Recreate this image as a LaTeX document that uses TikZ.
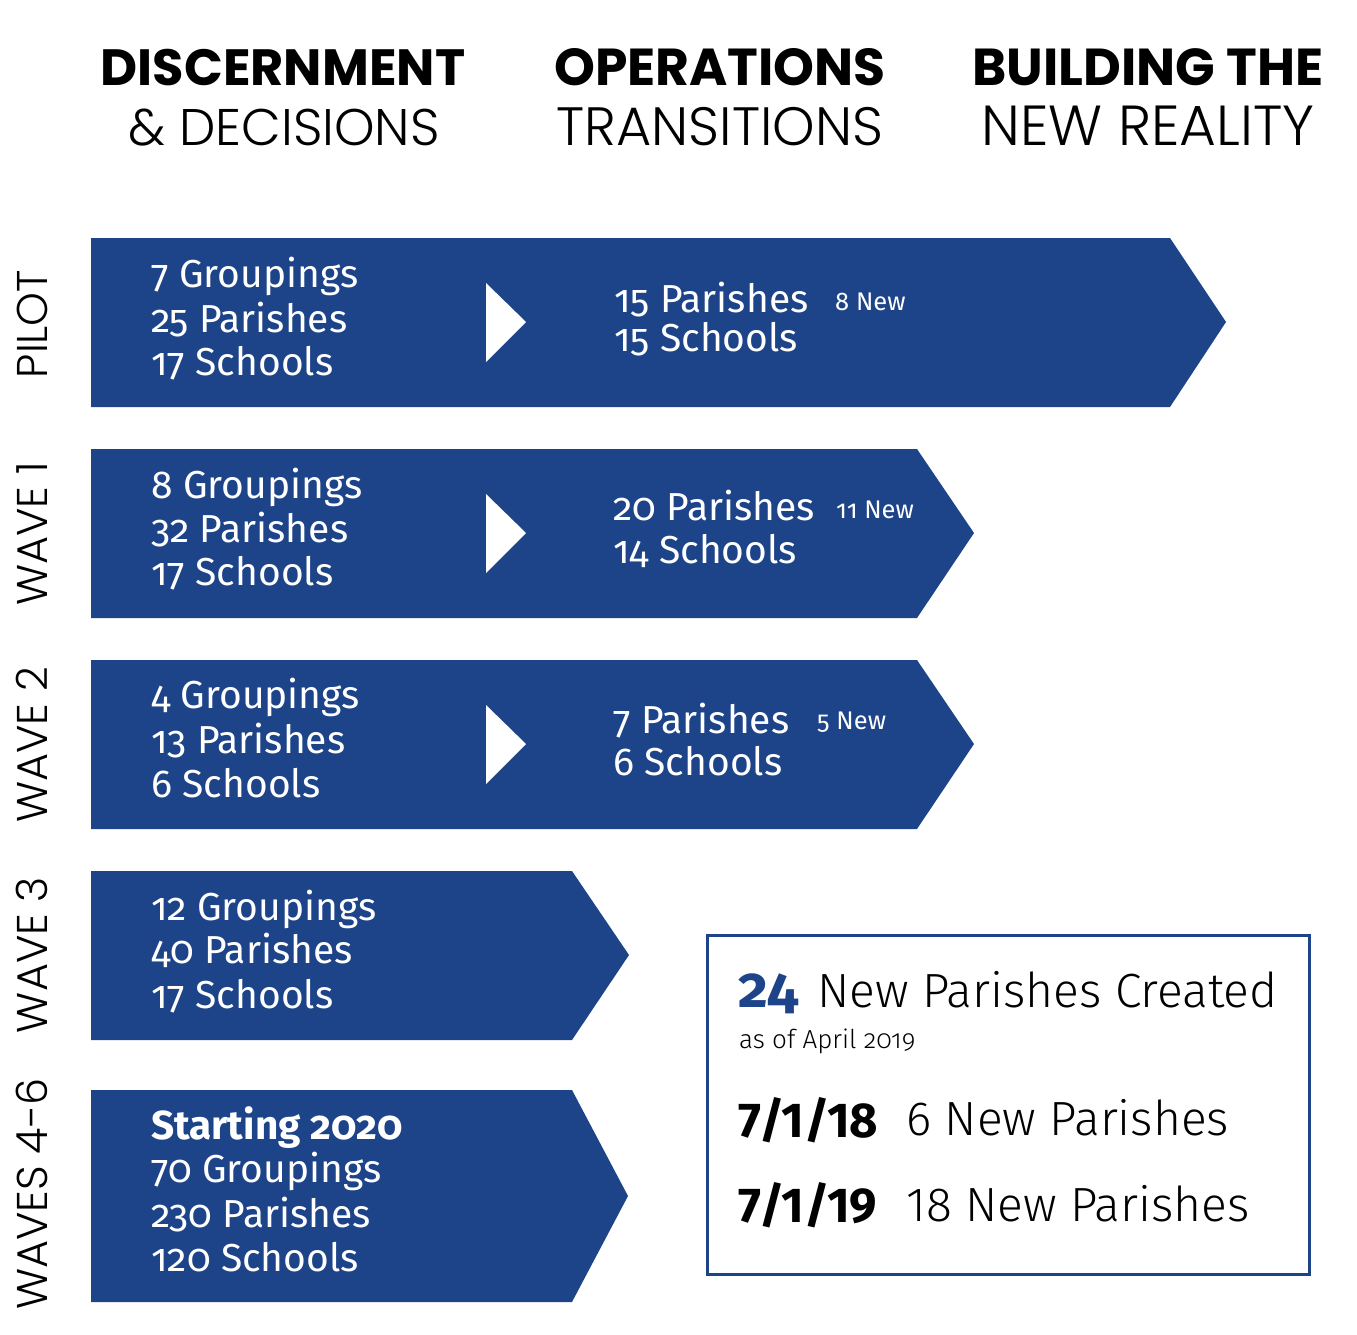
\documentclass[tikz,border=0pt]{standalone}
\usepackage{fontspec}
\setmainfont{Fira Sans}[Numbers=OldStyle]
\newfontfamily\firalight{Fira Sans Light}[Numbers=OldStyle]
\newfontfamily\firalightlin{Fira Sans Light}[Numbers=Lining]
\newfontfamily\firalin{Fira Sans}[Numbers=Lining]
\newfontfamily\popb{Poppins}
\newfontfamily\popl{Poppins Light}
\definecolor{navy}{RGB}{29,67,137}
\begin{document}
\begin{tikzpicture}[x=1pt,y=-1pt,
  head/.style={font=\popb\bfseries\fontsize{52}{52}\selectfont, anchor=base, inner sep=0},
  headl/.style={font=\popl\fontsize{53}{53}\selectfont, anchor=base, inner sep=0},
  rowlab/.style={font=\popl\fontsize{43}{43}\selectfont, rotate=90, anchor=base, inner sep=0},
  body/.style={font=\fontsize{39}{39}\selectfont, text=white, anchor=base west, inner sep=0},
  smallnew/.style={font=\fontsize{25.5}{25.5}\selectfont, text=white, anchor=base west, inner sep=0},
  arrowshape/.style={fill=navy},
  tri/.style={fill=white},
  boxtext/.style={font=\firalightlin\fontsize{48}{48}\selectfont, anchor=base west, inner sep=0},
  datetext/.style={font=\firalin\bfseries\fontsize{49}{49}\selectfont, anchor=base west, inner sep=0}
]
\useasboundingbox (0,0) rectangle (1357,1334);

% headers
\node[head, font=\popb\bfseries\fontsize{51}{51}\selectfont] (h1) at (283,85) {DISCERNMENT};
\node[headl, font=\popl\fontsize{51.5}{51.5}\selectfont] (h1b) at (284,145) {\& DECISIONS};
\node[head] (h2) at (720,85) {OPERATIONS};
\node[headl, font=\popl\fontsize{54}{54}\selectfont] (h2b) at (720,145) {TRANSITIONS};
\node[head] (h3) at (1148,85) {BUILDING THE};
\node[headl, font=\popl\fontsize{56.5}{56.5}\selectfont] (h3b) at (1148,145) {NEW REALITY};

% row labels
\node[rowlab] (l0) at (47,324) {PILOT};
\node[rowlab] (l1) at (47,534) {WAVE 1};
\node[rowlab] (l2) at (47,745) {WAVE 2};
\node[rowlab] (l3) at (47,955) {WAVE 3};
\node[rowlab] (l4) at (47,1194) {WAVES 4-6};

% arrow shapes
\fill[arrowshape] (91,238) -- (1170,238) -- (1226,322) -- (1170,407) -- (91,407) -- cycle;
\fill[arrowshape] (91,449) -- (917,449) -- (974,533) -- (917,618) -- (91,618) -- cycle;
\fill[arrowshape] (91,660) -- (917,660) -- (974,744) -- (917,829) -- (91,829) -- cycle;
\fill[arrowshape] (91,871) -- (572,871) -- (629,955) -- (572,1040) -- (91,1040) -- cycle;
\fill[arrowshape] (91,1090) -- (572,1090) -- (628,1196) -- (572,1302) -- (91,1302) -- cycle;

% white triangles
\fill[tri] (486,283) -- (526,322) -- (486,362) -- cycle;
\fill[tri] (486,494) -- (526,533) -- (486,573) -- cycle;
\fill[tri] (486,705) -- (526,744) -- (486,784) -- cycle;

% pilot
\node[body] (p1) at (151,287) {7 Groupings};
\node[body] (p2) at (151,332) {25 Parishes};
\node[body] (p3) at (151,375) {17 Schools};
\node[body] (p4) at (614,312) {15 Parishes};
\node[body] (p5) at (614,351) {15 Schools};
\node[smallnew] (p6) at (835,310) {8 New};

% wave 1
\node[body] (a1) at (151,498) {8 Groupings};
\node[body] (a2) at (151,542) {32 Parishes};
\node[body] (a3) at (151,585) {17 Schools};
\node[body] (a4) at (613,520) {20 Parishes};
\node[body] (a5) at (613,563) {14 Schools};
\node[smallnew] (a6) at (836,518) {11 New};

% wave 2
\node[body] (b1) at (151,708) {4 Groupings};
\node[body] (b2) at (151,753) {13 Parishes};
\node[body] (b3) at (151,797) {6 Schools};
\node[body] (b4) at (613,733) {7 Parishes};
\node[body] (b5) at (613,775) {6 Schools};
\node[smallnew] (b6) at (817,729) {5 New};

% wave 3
\node[body] (c1) at (151,920) {12 Groupings};
\node[body] (c2) at (151,963) {40 Parishes};
\node[body] (c3) at (151,1008) {17 Schools};

% waves 4-6
\node[body, font=\bfseries\fontsize{40.5}{40.5}\selectfont] (d0) at (151,1139) {Starting 2020};
\node[body] (d1) at (151,1182) {70 Groupings};
\node[body] (d2) at (151,1227) {230 Parishes};
\node[body] (d3) at (151,1271) {120 Schools};

% summary box
\node[draw=navy, line width=3.5pt, minimum width=602pt, minimum height=339pt, anchor=north west, inner sep=0] (box) at (705.5,933.5) {};
\node[anchor=base west, inner sep=0, text=navy, font=\bfseries\fontsize{58}{58}\selectfont] (n24) at (738,1007) {24};
\node[boxtext] (n24t) at (817,1007) {New Parishes Created};
\node[anchor=base west, inner sep=0, font=\firalight\fontsize{26}{26}\selectfont] (asof) at (739,1048) {as of April 2019};
\node[datetext] (d18) at (738,1137) {7/1/18};
\node[boxtext] (t18) at (906,1135) {6 New Parishes};
\node[datetext] (d19) at (738,1222) {7/1/19};
\node[boxtext] (t19) at (906,1221) {18 New Parishes};
\end{tikzpicture}
\end{document}
